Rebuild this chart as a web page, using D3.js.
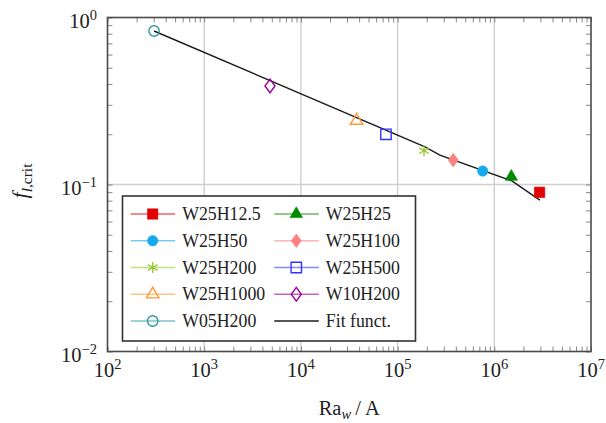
<!DOCTYPE html>
<html><head><meta charset="utf-8">
<script src="https://cdn.jsdelivr.net/npm/d3@7"></script>
<style>body{margin:0;background:#fff}svg{display:block}text{font-family:"Liberation Serif","Times New Roman",serif;fill:#222}</style>
</head><body><svg id="c" width="606" height="423"></svg>
<script>
// ---- data ----
const seriesNames = ["W25H12.5","W25H25","W25H50","W25H100","W25H200","W25H500","W25H1000","W10H200","W05H200"];
const raValues = [2.94e6, 1.50e6, 7.59e5, 3.76e5, 1.875e5, 7.58e4, 3.77e4, 4.79e3, 303];
const fCrit = [0.0898, 0.1114, 0.1204, 0.140, 0.1594, 0.1998, 0.241, 0.389, 0.830];
const fitRa = [303, 1.92e5, 2.74e5, 1.52e6, 2.96e6];
const fitF = [0.830, 0.168, 0.150, 0.105, 0.0807];
const fitLabel = "Fit funct.";
const xTickExp = [2, 3, 4, 5, 6, 7];
const yTickExp = [-2, -1, 0];

// ---- styles ----
const seriesColors = ["#e00000","#008a00","#14aaee","#ff8080","#99c832","#3333ff","#ff9933","#990099","#2a9a9a"];
const seriesMarkers = ["square","triangle","circle","diamond","asterisk","square","triangle","diamond","circle"];
const seriesFilled = [true,true,true,true,false,false,false,false,false];

const W = 606, H = 423;
const m = {l:107.5, r:15, t:17.5, b:71.5};
const svg = d3.select("#c");
const x = d3.scaleLog().domain([1e2,1e7]).range([m.l, W-m.r]);
const y = d3.scaleLog().domain([1e-2,1e0]).range([H-m.b, m.t]);

function markerPath(type){
  const p = d3.path();
  if(type==="square"){ const s=5.2; p.rect(-s,-s,2*s,2*s); }
  else if(type==="circle"){ p.arc(0,0,5.2,0,2*Math.PI); }
  else if(type==="triangle"){ const r=7.2; p.moveTo(0,-r); p.lineTo(r*0.866,r*0.5); p.lineTo(-r*0.866,r*0.5); p.closePath(); }
  else if(type==="diamond"){ p.moveTo(0,-6.8); p.lineTo(5,0); p.lineTo(0,6.8); p.lineTo(-5,0); p.closePath(); }
  else if(type==="asterisk"){ const r=5.6; for(let k=0;k<3;k++){const a=Math.PI/2+k*Math.PI/3; p.moveTo(r*Math.cos(a),r*Math.sin(a)); p.lineTo(-r*Math.cos(a),-r*Math.sin(a));} }
  return p.toString();
}
function drawMarker(g, i){
  const c = seriesColors[i], t = seriesMarkers[i];
  const el = g.append("path").attr("d", markerPath(t));
  if(t==="asterisk") el.attr("fill","none").attr("stroke",c).attr("stroke-width",1.4);
  else if(seriesFilled[i]) el.attr("fill",c).attr("stroke",c).attr("stroke-width",0.6);
  else el.attr("fill","none").attr("stroke",c).attr("stroke-width",1.4);
}

// grid
const gridG = svg.append("g");
xTickExp.slice(1,-1).forEach(e=>{
  gridG.append("line").attr("x1",x(10**e)).attr("x2",x(10**e)).attr("y1",m.t).attr("y2",H-m.b).attr("stroke","#cfcfcf").attr("stroke-width",1.4);
});
yTickExp.slice(1,-1).forEach(e=>{
  gridG.append("line").attr("x1",m.l).attr("x2",W-m.r).attr("y1",y(10**e)).attr("y2",y(10**e)).attr("stroke","#cfcfcf").attr("stroke-width",1.4);
});

// ticks on all sides (inward) via d3 axes
const xMinor = x.ticks().filter(v=>v<=1e7);
const yMinor = y.ticks();
function styleAx(g){ g.select(".domain").remove(); g.selectAll("text").remove(); g.selectAll("line").attr("stroke","#888").attr("stroke-width",1); }
svg.append("g").attr("transform",`translate(0,${H-m.b})`).call(d3.axisBottom(x).tickValues(xMinor).tickSize(-5)).call(styleAx);
svg.append("g").attr("transform",`translate(0,${m.t})`).call(d3.axisTop(x).tickValues(xMinor).tickSize(-5)).call(styleAx);
svg.append("g").attr("transform",`translate(${m.l},0)`).call(d3.axisLeft(y).tickValues(yMinor).tickSize(-5)).call(styleAx);
svg.append("g").attr("transform",`translate(${W-m.r},0)`).call(d3.axisRight(y).tickValues(yMinor).tickSize(-5)).call(styleAx);

// fit line
svg.append("path").datum(fitRa.map((v,i)=>[v,fitF[i]]))
  .attr("d", d3.line().x(d=>x(d[0])).y(d=>y(d[1])))
  .attr("fill","none").attr("stroke","#1a1a1a").attr("stroke-width",1.4);

// markers
seriesNames.forEach((n,i)=>{
  const g = svg.append("g").attr("transform",`translate(${x(raValues[i])},${y(fCrit[i])})`);
  drawMarker(g,i);
});

// frame
svg.append("rect").attr("x",m.l).attr("y",m.t).attr("width",W-m.r-m.l).attr("height",H-m.b-m.t)
  .attr("fill","none").attr("stroke","#4a4a4a").attr("stroke-width",1.6);

// tick labels
xTickExp.forEach(e=>{
  const t = svg.append("text").attr("x",x(10**e)).attr("y",377).attr("text-anchor","middle").attr("font-size",20.5);
  t.append("tspan").text("10");
  t.append("tspan").attr("dy",-8).attr("font-size",14.5).text(String(e));
});
yTickExp.forEach(e=>{
  const t = svg.append("text").attr("x",97).attr("y",y(10**e)+10).attr("text-anchor","end").attr("font-size",20.5);
  t.append("tspan").text("10");
  t.append("tspan").attr("dy",-8).attr("font-size",14.5).text(String(e).replace("-","\u2212"));
});

// axis titles
const xt = svg.append("text").attr("x",(m.l+W-m.r)/2).attr("y",415).attr("text-anchor","middle").attr("font-size",20.5);
xt.append("tspan").text("Ra");
xt.append("tspan").attr("dy",4).attr("font-size",14.5).attr("font-style","italic").text("w");
xt.append("tspan").attr("dy",-4).text("\u2009/\u2009A");

const yt = svg.append("text").attr("transform","translate(27,181) rotate(-90)").attr("text-anchor","middle").attr("font-size",22);
yt.append("tspan").attr("font-style","italic").text("f");
yt.append("tspan").attr("dy",4.5).attr("font-size",15.5).attr("font-style","italic").text("l");
yt.append("tspan").attr("font-size",15.5).text(",crit");

// legend
const lg = svg.append("g");
lg.append("rect").attr("x",122.5).attr("y",196).attr("width",293).attr("height",145)
  .attr("fill","#fff").attr("stroke","#333").attr("stroke-width",1.6);
const items = seriesNames.map((n,i)=>({name:n, idx:i})).concat([{name:fitLabel, idx:-1}]);
items.forEach((it,k)=>{
  const col = k%2, row = Math.floor(k/2);
  const x0 = col===0 ? 130.7 : 274.3;
  const cy = 214 + row*26.75;
  const g = lg.append("g").attr("transform",`translate(${x0},${cy})`);
  if(it.idx>=0){
    g.append("line").attr("x1",0).attr("x2",44.5).attr("stroke",seriesColors[it.idx]).attr("stroke-opacity",0.6).attr("stroke-width",1.5);
    const mg = g.append("g").attr("transform","translate(22,0)");
    drawMarker(mg,it.idx);
  } else {
    g.append("line").attr("x1",0).attr("x2",44.5).attr("stroke","#555").attr("stroke-width",2);
  }
  g.append("text").attr("x",51.5).attr("y",6).attr("font-size",17.8).text(it.name);
});
</script></body></html>
